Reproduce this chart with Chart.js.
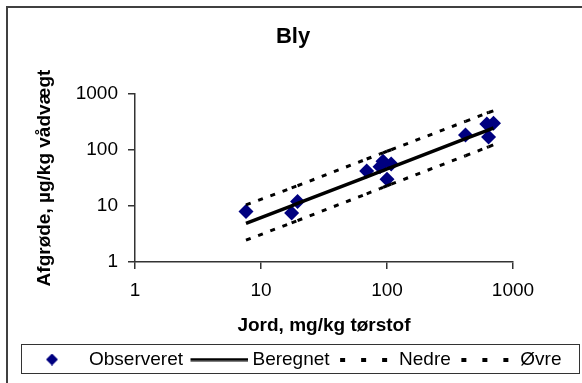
<!DOCTYPE html>
<html>
<head>
<meta charset="utf-8">
<title>Bly</title>
<script src="https://cdn.jsdelivr.net/npm/chart.js@4/dist/chart.umd.min.js"></script>
<style>
  html, body { margin: 0; padding: 0; background: #fff; }
  #wrap { width: 582px; height: 383px; position: relative; }
</style>
</head>
<body>
<div id="wrap"><canvas id="chart" width="582" height="383"></canvas></div>
<script>
// Text
const chartTitle = 'Bly';
const xAxisTitle = 'Jord, mg/kg tørstof';
const yAxisTitle = 'Afgrøde, µg/kg vådvægt';
const seriesNames = ['Observeret', 'Beregnet', 'Nedre', 'Øvre'];

// Logarithmic axis ticks (both axes)
const axisTicks = [1, 10, 100, 1000];
const axisTickLabels = ['1', '10', '100', '1000'];

// Observed lead content: soil (mg/kg dry matter) vs crop (µg/kg fresh weight)
const observedSoil = [7.6, 17.5, 19.5, 69, 88, 93, 108, 100, 420, 620, 700, 640];
const observedCrop = [8, 7.5, 12, 42, 50, 63, 56, 30, 185, 290, 300, 170];

// Regression line with lower and upper limits, at the observed soil values
const fitSoil       = [7.6, 17.5, 19.5, 69, 88, 93, 100, 108, 420, 620, 640, 700];
const fitCalculated = [4.9, 10.1, 11.1, 33.2, 41, 43, 45.8, 49, 159, 222, 229, 247];
const fitLower      = [2.45, 5, 5.5, 16.5, 20.5, 21.5, 23, 24.5, 79, 111, 114, 124];
const fitUpper      = [10.5, 21, 23, 69, 85, 89, 95, 101, 325, 455, 468, 500];

const NAVY = '#000080';
const INK = '#000';
const AXIS = '#333';
const FONT = "'Liberation Sans', Arial, Helvetica, sans-serif";

const pairs = (xs, ys) => xs.map((x, i) => ({ x, y: ys[i] }));

// Small legend symbols
function symbol(w, h, paint) {
  const c = document.createElement('canvas');
  c.width = w; c.height = h;
  paint(c.getContext('2d'), w, h);
  return c;
}
const dashedSymbol = () => symbol(60, 4, (g) => {
  g.fillStyle = INK;
  [8, 29, 50].forEach(x => g.fillRect(x, 0, 5, 4));
});
const legendSymbols = [
  symbol(12, 12, (g, w, h) => {
    g.fillStyle = NAVY;
    g.beginPath();
    g.moveTo(w / 2, 0); g.lineTo(w, h / 2); g.lineTo(w / 2, h); g.lineTo(0, h / 2);
    g.closePath(); g.fill();
  }),
  symbol(66, 4, (g, w) => { g.fillStyle = INK; g.fillRect(8, 0.5, w - 8, 3); }),
  dashedSymbol(),
  dashedSymbol()
];

// White page, outer frame and the box around the legend
const framePlugin = {
  id: 'frame',
  beforeDraw(chart) {
    const ctx = chart.ctx;
    ctx.save();
    ctx.fillStyle = '#fff';
    ctx.fillRect(0, 0, chart.width, chart.height);
    ctx.restore();
  },
  afterDraw(chart) {
    const ctx = chart.ctx;
    ctx.save();
    ctx.strokeStyle = '#404040';
    ctx.lineWidth = 2;
    ctx.strokeRect(7, 7, chart.width + 20, chart.height + 20);
    const lg = chart.legend;
    const boxes = lg.legendHitBoxes;
    if (boxes && boxes.length) {
      const first = boxes[0], last = boxes[boxes.length - 1];
      const left = Math.round(first.left - 3) + 0.5;
      const right = Math.round(last.left + last.width + 17) + 0.5;
      const top = Math.round(lg.top - 1) + 0.5;
      const bottom = Math.round(lg.bottom - 6) + 0.5;
      ctx.strokeStyle = '#333';
      ctx.lineWidth = 1;
      ctx.strokeRect(left, top, right - left, bottom - top);
    }
    ctx.restore();
  }
};

const tickFont = { family: FONT, size: 19 };
const titleFont = { family: FONT, size: 19, weight: 'bold' };

function logAxis(extra) {
  return Object.assign({
    type: 'logarithmic',
    min: 1,
    max: 1000,
    afterBuildTicks: s => { s.ticks = axisTicks.map(v => ({ value: v })); },
    ticks: {
      autoSkip: false,
      color: INK,
      font: tickFont,
      callback: v => axisTickLabels[axisTicks.indexOf(v)] ?? ''
    },
    grid: {
      display: true,
      drawOnChartArea: false,
      drawTicks: true,
      tickLength: 7,
      color: AXIS,
      lineWidth: 1.5
    },
    border: { display: true, color: AXIS, width: 1.5 }
  }, extra);
}

const xAxis = logAxis({
  position: 'bottom',
  title: { display: true, text: xAxisTitle, color: INK, font: titleFont, padding: { top: 0, bottom: 7.6 } },
  afterFit: s => { s.height = 83; s.paddingRight = 69; }
});
xAxis.ticks.padding = 10.6;

const yAxis = logAxis({
  position: 'left',
  title: { display: true, text: yAxisTitle, color: INK, font: titleFont, padding: { top: 29, bottom: 0 } },
  afterFit: s => { s.width = 131; }
});
yAxis.ticks.padding = 10;

// Each segment between two points starts its own dash pattern
const restartDash = { borderDashOffset: c => (c.p0DataIndex % 2 ? 0 : 0.001) };

const lineStyle = {
  showLine: true,
  borderColor: INK,
  backgroundColor: INK,
  pointRadius: 0,
  pointHoverRadius: 0,
  fill: false,
  tension: 0,
  order: 0
};

new Chart(document.getElementById('chart'), {
  type: 'scatter',
  data: {
    datasets: [
      {
        label: seriesNames[0],
        data: pairs(observedSoil, observedCrop),
        pointStyle: 'rectRot',
        pointRadius: 7.5,
        pointHoverRadius: 7.5,
        backgroundColor: NAVY,
        borderColor: NAVY,
        borderWidth: 0,
        order: 1
      },
      Object.assign({ label: seriesNames[1], data: pairs(fitSoil, fitCalculated), borderWidth: 3.5 }, lineStyle),
      Object.assign({ label: seriesNames[2], data: pairs(fitSoil, fitLower), borderWidth: 3, borderDash: [5, 8], segment: restartDash }, lineStyle),
      Object.assign({ label: seriesNames[3], data: pairs(fitSoil, fitUpper), borderWidth: 3, borderDash: [5, 8], segment: restartDash }, lineStyle)
    ]
  },
  options: {
    responsive: false,
    animation: false,
    events: [],
    layout: { padding: { left: 4, right: 0, top: 0, bottom: 4 } },
    scales: { x: xAxis, y: yAxis },
    plugins: {
      title: {
        display: true,
        text: chartTitle,
        color: INK,
        font: { family: FONT, size: 22, weight: 'bold' },
        padding: { top: 24, bottom: 43.6 }
      },
      legend: {
        display: true,
        position: 'bottom',
        labels: {
          color: INK,
          font: { family: FONT, size: 19 },
          usePointStyle: true,
          pointStyleWidth: 55,
          padding: 5,
          sort: (a, b) => a.datasetIndex - b.datasetIndex,
          generateLabels: chart => {
            const items = Chart.defaults.plugins.legend.labels.generateLabels(chart);
            items.forEach(it => { it.pointStyle = legendSymbols[it.datasetIndex]; it.lineDash = []; });
            return items;
          }
        }
      },
      tooltip: { enabled: false }
    }
  },
  plugins: [framePlugin]
});
</script>
</body>
</html>
